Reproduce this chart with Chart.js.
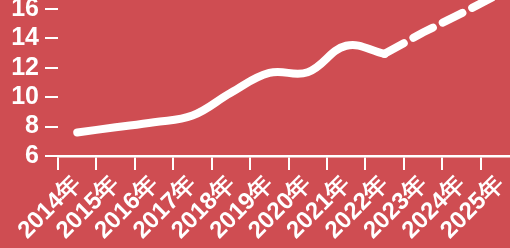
<!DOCTYPE html>
<html>
<head>
<meta charset="utf-8">
<script src="https://cdn.jsdelivr.net/npm/chart.js@4.4.1/dist/chart.umd.min.js"></script>
<style>
  html, body { margin: 0; padding: 0; background: #cf4d52; overflow: hidden; }
  #wrap { position: relative; width: 519px; height: 248px; }
</style>
</head>
<body>
<div id="wrap"><canvas id="chart"></canvas></div>
<script>
// categories and values
var years = ['2014年', '2015年', '2016年', '2017年', '2018年', '2019年', '2020年', '2021年', '2022年', '2023年', '2024年', '2025年'];
var actual = [7.6, 7.95, 8.3, 8.75, 10.3, 11.65, 11.7, 13.5, 12.95, null, null, null];
var forecast = [null, null, null, null, null, null, null, null, 12.95, 14.4, 15.7, 17.05];
var yTicks = [6, 8, 10, 12, 14, 16];

var white = '#ffffff';
var font = 'Liberation Sans';

new Chart(document.getElementById('chart'), {
    type: 'line',
    data: {
        labels: years,
        datasets: [{
            data: actual,
            borderColor: white,
            borderWidth: 8,
            borderCapStyle: 'round',
            borderJoinStyle: 'round',
            tension: 0.4,
            pointRadius: 0,
            clip: false
        }, {
            data: forecast,
            borderColor: white,
            borderWidth: 8,
            borderCapStyle: 'round',
            borderDash: [22, 11],
            tension: 0,
            pointRadius: 0,
            clip: false
        }]
    },
    options: {
        responsive: true,
        maintainAspectRatio: false,
        animation: false,
        layout: { padding: { top: 9, left: 0, right: 0, bottom: 0 } },
        plugins: { legend: { display: false }, tooltip: { enabled: false } },
        scales: {
            x: {
                offset: true,
                grid: { display: true, offset: true, drawOnChartArea: false, color: white, lineWidth: 2, tickLength: 14 },
                border: { display: true, color: white, width: 2.5 },
                ticks: {
                    color: white,
                    font: { family: font, size: 24, weight: 'bold' },
                    minRotation: 45,
                    maxRotation: 45,
                    autoSkip: false,
                    padding: 0
                },
                afterFit: function(scale) {
                    scale.height = 92;
                    scale.paddingLeft = 0;
                    scale.paddingRight = 0;
                }
            },
            y: {
                min: 6,
                max: 16,
                afterBuildTicks: function(scale) {
                    scale.ticks = yTicks.map(function(v) { return { value: v }; });
                },
                grid: { display: true, drawOnChartArea: false, color: white, lineWidth: 2, tickLength: 13 },
                border: { display: false },
                ticks: {
                    color: white,
                    font: { family: font, size: 25, weight: 'bold' },
                    autoSkip: false,
                    padding: 6
                },
                afterFit: function(scale) {
                    scale.width = 58;
                    scale.paddingTop = 0;
                    scale.paddingBottom = 0;
                }
            }
        }
    }
});
</script>
</body>
</html>
